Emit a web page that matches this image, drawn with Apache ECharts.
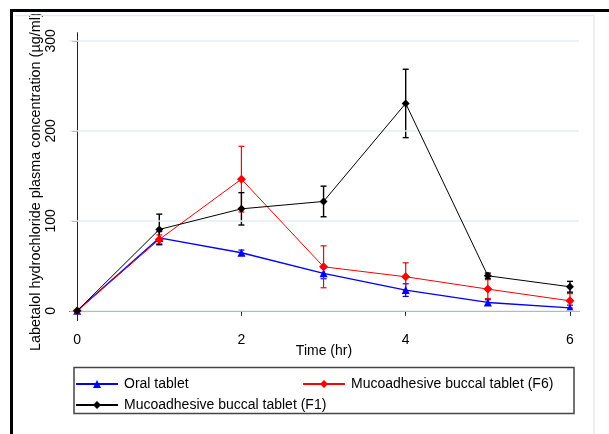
<!DOCTYPE html>
<html>
<head>
<meta charset="utf-8">
<script src="https://cdn.jsdelivr.net/npm/echarts@6/dist/echarts.min.js"></script>
<style>html,body{margin:0;padding:0;background:#fff}#c{width:609px;height:434px}</style>
</head>
<body>
<div id="c"></div>
<script>
var times = [0, 1, 2, 3, 4, 5, 6];
var oral = [0, 81, 64.5, 41.6, 23, 9.3, 3.3];
var oralErr = [1, 7, 3, 6, 7, 3, 3];
var f6 = [0, 79.3, 146.3, 48.9, 37.8, 24.1, 11.1];
var f6Err = [1, 5, 36.5, 23.3, 15.5, 10.5, 8];
var f1 = [0, 90.4, 113.3, 121.5, 230.4, 38.9, 26.7];
var f1Err = [0, 17, 18, 17, 38, 3, 6];
var xTicks = [0, 2, 4, 6];
var yTicks = [0, 100, 200, 300];
var names = ['Oral tablet', 'Mucoadhesive buccal tablet (F6)', 'Mucoadhesive buccal tablet (F1)'];
var FONT = '"Liberation Sans", Arial, sans-serif';

function pts(vals) { return times.map(function (t, i) { return [t, vals[i]]; }); }
function errPts(vals, errs) { return times.map(function (t, i) { return [t, vals[i] - errs[i], vals[i] + errs[i]]; }); }

function errSeries(vals, errs, color, lw) {
  return {
    type: 'custom',
    silent: true,
    z: 3,
    data: errPts(vals, errs),
    renderItem: function (params, api) {
      var lo = api.coord([api.value(0), api.value(1)]);
      var hi = api.coord([api.value(0), api.value(2)]);
      var w = 3;
      var st = { stroke: color, lineWidth: lw };
      return {
        type: 'group',
        children: [
          { type: 'line', shape: { x1: lo[0], y1: lo[1], x2: hi[0], y2: hi[1] }, style: st },
          { type: 'line', shape: { x1: lo[0] - w, y1: lo[1], x2: lo[0] + w, y2: lo[1] }, style: st },
          { type: 'line', shape: { x1: hi[0] - w, y1: hi[1], x2: hi[0] + w, y2: hi[1] }, style: st }
        ]
      };
    }
  };
}

var chart = echarts.init(document.getElementById('c'), null, { renderer: 'canvas' });

function legendAt(name, left, top) {
  return {
    data: [name], left: left, top: top, padding: 0, itemWidth: 42, itemHeight: 10, itemGap: 5,
    selectedMode: false,
    textStyle: { fontFamily: FONT, fontSize: 14, color: '#000', padding: [0, 0, 0, 1] }
  };
}

var option = {
  animation: false,
  backgroundColor: '#fff',
  textStyle: { fontFamily: FONT },
  grid: { left: 69.6, right: 30, top: 32.7, bottom: 113.3, containLabel: false },
  legend: [
    legendAt(names[0], 75, 377),
    legendAt(names[1], 302, 377),
    legendAt(names[2], 75, 398)
  ],
  xAxis: {
    type: 'value', min: -0.092, max: 6.11,
    axisLine: { lineStyle: { color: '#222', width: 1 } },
    axisTick: { show: true, length: 5, customValues: xTicks, lineStyle: { color: '#222' } },
    axisLabel: { customValues: xTicks, margin: 12, fontFamily: FONT, fontSize: 14, color: '#000' },
    splitLine: { show: false }
  },
  yAxis: {
    type: 'value', min: -11, max: 309,
    axisLine: { show: true, lineStyle: { color: '#222', width: 1 } },
    axisTick: { show: true, length: 5, customValues: yTicks, lineStyle: { color: '#222' } },
    axisLabel: { customValues: yTicks, rotate: 90, margin: 11, fontFamily: FONT, fontSize: 14, color: '#000' },
    splitLine: { show: false }
  },
  series: [
    {
      type: 'line', data: [], z: 0, silent: true,
      markLine: {
        silent: true, symbol: 'none', label: { show: false },
        lineStyle: { color: '#e6eef0', width: 1.5, type: 'solid' },
        data: yTicks.map(function (v) { return { yAxis: v }; })
      }
    },
    errSeries(oral, oralErr, '#0000ff', 1.2),
    errSeries(f6, f6Err, '#ff0000', 1.2),
    errSeries(f1, f1Err, '#000000', 1.4),
    {
      name: names[0], type: 'line', data: pts(oral), z: 4,
      symbol: 'triangle', symbolSize: 8, showAllSymbol: true,
      lineStyle: { color: '#0000ff', width: 1.4 }, itemStyle: { color: '#0000ff' }
    },
    {
      name: names[1], type: 'line', data: pts(f6), z: 5,
      symbol: 'diamond', symbolSize: 9,
      lineStyle: { color: '#ff0000', width: 1 }, itemStyle: { color: '#ff0000' }
    },
    {
      name: names[2], type: 'line', data: pts(f1), z: 6,
      symbol: 'diamond', symbolSize: 8,
      lineStyle: { color: '#000000', width: 1 }, itemStyle: { color: '#000000' }
    }
  ],
  graphic: [
    {
      type: 'text', x: 36, y: 351, rotation: Math.PI / 2, silent: true,
      style: { text: 'Labetalol hydrochloride plasma concentration (\u00b5g/ml)', fontFamily: FONT, fontSize: 14.4, fill: '#000', textAlign: 'left', textVerticalAlign: 'middle' }
    },
    { type: 'rect', shape: { x: 14, y: 0, width: 40, height: 14 }, style: { fill: '#fff' }, silent: true },
    { type: 'rect', shape: { x: 10, y: 9, width: 600, height: 3 }, style: { fill: '#000' }, silent: true },
    { type: 'rect', shape: { x: 10, y: 9, width: 3, height: 430 }, style: { fill: '#000' }, silent: true },
    { type: 'polyline', shape: { points: [[15, 15.5], [594, 15.5], [594, 440]] }, style: { stroke: '#e3eaf0', lineWidth: 1.5, fill: null }, silent: true },
    { type: 'rect', shape: { x: 74, y: 367.5, width: 500, height: 46 }, style: { stroke: '#444', lineWidth: 1.5, fill: null }, silent: true },
    {
      type: 'text', x: 324, y: 351, silent: true,
      style: { text: 'Time (hr)', fontFamily: FONT, fontSize: 14, fill: '#000', textAlign: 'center', textVerticalAlign: 'middle' }
    }
  ]
};
chart.setOption(option);
</script>
</body>
</html>
